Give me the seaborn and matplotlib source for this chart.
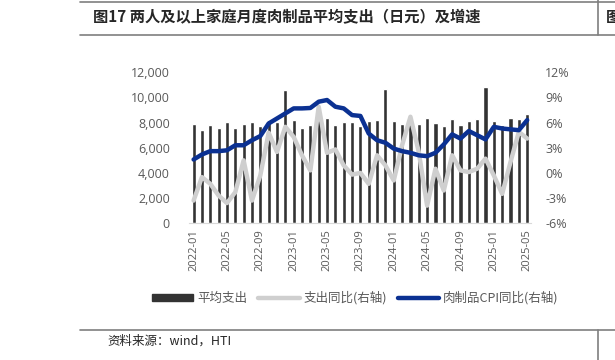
import numpy as np
import pandas as pd
import seaborn as sns
import matplotlib.pyplot as plt
from matplotlib.lines import Line2D
from matplotlib.patches import Patch

# --- DATA ---
months = [f"{y}-{m:02d}" for y in range(2022, 2026) for m in range(1, 13)][:41]

# 平均支出 (日元)
spend = [7870, 7415, 7790, 7600, 8080, 7600, 7870, 8080, 7735, 8200,
         8030, 10600, 8210, 7600, 7810, 8210, 8350, 7810, 8030, 8080,
         7735, 8130, 8210, 10680, 8130, 7870, 7950, 7870, 8350, 7950,
         7735, 8270, 7810, 8130, 8270, 10860, 8130, 7810, 8400, 8270, 8660]

# 支出同比 (%)
spend_yoy = [-3.3, -0.5, -1.3, -2.7, -3.6, -2.3, 1.5, -3.3, -0.3, 4.8,
             2.5, 5.5, 4.3, 2.1, 0.3, 7.9, 2.4, 2.8, 0.9, -0.2,
             0.0, -1.3, 2.1, 0.9, -0.9, 3.3, 6.7, 2.5, -3.9, 0.5,
             -2.1, 2.1, 0.3, 0.1, 0.5, 1.7, -0.3, -2.5, 1.3, 4.9, 4.1]

# 肉制品CPI同比 (%)
cpi_yoy = [1.6, 2.2, 2.6, 2.6, 2.7, 3.3, 3.3, 3.9, 4.4, 5.9,
           6.5, 7.1, 7.7, 7.7, 7.75, 8.5, 8.7, 7.9, 7.7, 6.9,
           6.8, 4.7, 3.9, 3.6, 2.9, 2.6, 2.4, 2.1, 2.0, 2.4,
           3.4, 4.6, 4.1, 5.0, 4.5, 4.0, 5.5, 5.3, 5.2, 5.1, 6.3]

left_ticks = [0, 2000, 4000, 6000, 8000, 10000, 12000]
right_ticks = [-6, -3, 0, 3, 6, 9, 12]

df = pd.DataFrame({'month': months, 'spend': spend,
                   'spend_yoy': spend_yoy, 'cpi_yoy': cpi_yoy})
df['idx'] = range(len(df))

# --- STYLE ---
sns.set_style('white')
plt.rcParams['font.family'] = ['Noto Sans CJK SC', 'DejaVu Sans']

BAR = '#333333'
GREY = '#cfcfcf'
BLUE = '#0b3192'
TXT = '#595959'

fig = plt.figure(figsize=(6.15, 3.6), dpi=100)
ax = fig.add_axes([0.308, 0.380, 0.556, 0.419])

sns.barplot(data=df, x='idx', y='spend', color=BAR, width=0.5,
            saturation=1, ax=ax, native_scale=True)
ax.set_ylim(0, 12000)
ax.set_xlim(-0.5, len(df) - 0.5)
ax.set_yticks(left_ticks)
ax.set_yticklabels([f"{v:,}" for v in left_ticks], fontsize=9, color=TXT,
                   family='Open Sans')
ax.set_xticks(df['idx'][::4])
ax.set_xticklabels(df['month'][::4], rotation=90, fontsize=8, color=TXT,
                   family='Open Sans')
ax.set_xticks(np.arange(-0.5, len(df), 4), minor=True)
ax.tick_params(axis='x', which='major', length=0, pad=4)
ax.tick_params(axis='x', which='minor', length=4, color='#d9d9d9')
ax.tick_params(axis='y', length=0, pad=14)
ax.set_xlabel('')
ax.set_ylabel('')
for s in ['top', 'left', 'right']:
    ax.spines[s].set_visible(False)
ax.spines['bottom'].set_color('#d9d9d9')

ax2 = ax.twinx()
sns.lineplot(data=df, x='idx', y='spend_yoy', color=GREY, linewidth=3.2, ax=ax2)
sns.lineplot(data=df, x='idx', y='cpi_yoy', color=BLUE, linewidth=3.2, ax=ax2)
ax2.set_ylim(-6, 12)
ax2.set_yticks(right_ticks)
ax2.set_yticklabels([f"{v}%" for v in right_ticks], fontsize=9, color=TXT,
                    family='Open Sans')
ax2.tick_params(axis='y', length=0, pad=10)
ax2.set_ylabel('')
for s in ax2.spines.values():
    s.set_visible(False)

# --- LEGEND ---
handles = [Patch(facecolor=BAR, edgecolor=BAR),
           Line2D([], [], color=GREY, linewidth=3.2),
           Line2D([], [], color=BLUE, linewidth=3.2)]
labels = ['平均支出', '支出同比(右轴)', '肉制品CPI同比(右轴)']
leg = fig.legend(handles, labels, loc='center', bbox_to_anchor=(0.578, 0.172),
                 ncol=3, frameon=False, fontsize=9, handlelength=3.3,
                 handleheight=0.55, handletextpad=0.3, columnspacing=0.9)
for t in leg.get_texts():
    t.set_color(TXT)

# --- HEADER / FOOTER ---
fig.text(0.151, 0.952, '图17 两人及以上家庭月度肉制品平均支出（日元）及增速',
         fontsize=11, fontweight='bold', va='center', ha='left')
fig.text(0.174, 0.052, '资料来源：wind，HTI', fontsize=9, va='center', ha='left')
fig.text(0.985, 0.952, '图', fontsize=11, fontweight='bold', va='center', ha='left')

line_kw = dict(color='#7f7f7f', linewidth=1.2, transform=fig.transFigure)
fig.add_artist(Line2D([0.13, 1.0], [0.994, 0.994], **line_kw))
fig.add_artist(Line2D([0.13, 1.0], [0.903, 0.903], **line_kw))
fig.add_artist(Line2D([0.972, 0.972], [0.903, 1.0], **line_kw))
fig.add_artist(Line2D([0.13, 1.0], [0.083, 0.083], **line_kw))
fig.add_artist(Line2D([0.972, 0.972], [0.0, 0.083], **line_kw))

fig.savefig('out.png', dpi=100)
